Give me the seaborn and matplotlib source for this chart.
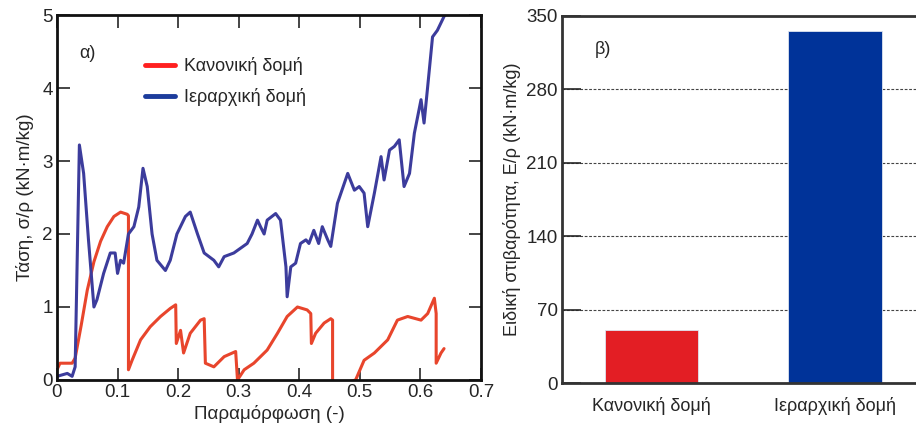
import numpy as np
import pandas as pd
import matplotlib
matplotlib.use("Agg")
import matplotlib.pyplot as plt
import seaborn as sns
from matplotlib.lines import Line2D

# ---- data ----
reg_strain = [0.0, 0.005, 0.025, 0.03, 0.04, 0.05, 0.061, 0.072, 0.083, 0.094, 0.105, 0.116, 0.118,
              0.118, 0.124, 0.138, 0.154, 0.171, 0.187, 0.196, 0.197, 0.204, 0.209, 0.22, 0.237,
              0.243, 0.245, 0.259, 0.276, 0.295, 0.298, 0.309, 0.325, 0.347, 0.364, 0.38, 0.397,
              0.413, 0.419, 0.42, 0.427, 0.441, 0.452, 0.455, 0.455, 0.48, 0.493, 0.507, 0.524,
              0.546, 0.562, 0.579, 0.601, 0.612, 0.623, 0.626, 0.626, 0.634, 0.639]
reg_stress = [0.14, 0.23, 0.23, 0.30, 0.75, 1.23, 1.62, 1.90, 2.10, 2.24, 2.30, 2.27, 2.25,
              0.14, 0.27, 0.55, 0.73, 0.87, 0.98, 1.03, 0.50, 0.68, 0.37, 0.64, 0.82,
              0.84, 0.23, 0.18, 0.32, 0.39, 0.0, 0.14, 0.23, 0.41, 0.64, 0.87, 1.0,
              0.96, 0.91, 0.50, 0.64, 0.78, 0.84, 0.82, -0.03, -0.03, 0.0, 0.27, 0.37,
              0.55, 0.82, 0.87, 0.82, 0.91, 1.12, 0.91, 0.23, 0.37, 0.43]

hier_strain = [0.0, 0.017, 0.025, 0.03, 0.037, 0.044, 0.052, 0.061, 0.066, 0.077, 0.088, 0.096,
               0.1, 0.105, 0.11, 0.118, 0.127, 0.135, 0.142, 0.149, 0.157, 0.165, 0.179, 0.187,
               0.198, 0.212, 0.22, 0.232, 0.243, 0.259, 0.267, 0.276, 0.292, 0.314, 0.322, 0.331,
               0.336, 0.342, 0.347, 0.361, 0.369, 0.378, 0.38, 0.386, 0.394, 0.402, 0.411, 0.416,
               0.424, 0.432, 0.438, 0.447, 0.452, 0.463, 0.48, 0.491, 0.499, 0.507, 0.513, 0.524,
               0.535, 0.54, 0.549, 0.557, 0.565, 0.573, 0.582, 0.59, 0.601, 0.606, 0.612, 0.62,
               0.628, 0.639, 0.645]
hier_stress = [0.05, 0.09, 0.05, 0.18, 3.22, 2.83, 1.92, 1.0, 1.1, 1.46, 1.74, 1.74,
               1.46, 1.64, 1.6, 2.0, 2.1, 2.37, 2.9, 2.65, 2.0, 1.64, 1.5, 1.64,
               2.0, 2.24, 2.3, 2.0, 1.74, 1.64, 1.55, 1.69, 1.74, 1.87, 2.0, 2.19,
               2.1, 2.0, 2.19, 2.28, 2.19, 1.55, 1.14, 1.55, 1.6, 1.87, 1.92, 1.87,
               2.05, 1.87, 2.1, 1.92, 1.83, 2.42, 2.83, 2.6, 2.65, 2.56, 2.1, 2.56,
               3.06, 2.74, 3.15, 3.2, 3.29, 2.65, 2.83, 3.38, 3.84, 3.52, 4.02, 4.7,
               4.79, 4.98, 5.05]

series_names = ["Κανονική δομή", "Ιεραρχική δομή"]
stiffness = [51, 336]

line_colors = ["#e8452c", "#3c3c9c"]
legend_colors = ["#ff2020", "#1c3c9c"]
bar_colors = ["#e31e24", "#003399"]

x_ticks = [0, 0.1, 0.2, 0.3, 0.4, 0.5, 0.6, 0.7]
x_tick_labels = ["0", "0.1", "0.2", "0.3", "0.4", "0.5", "0.6", "0.7"]
y_ticks_a = [0, 1, 2, 3, 4, 5]
y_ticks_b = [0, 70, 140, 210, 280, 350]

# ---- style ----
sns.set_style("white")
plt.rcParams['font.family'] = ['Liberation Sans', 'DejaVu Sans']
plt.rcParams['axes.linewidth'] = 2.0

df_lines = pd.concat([
    pd.DataFrame({"strain": reg_strain, "stress": reg_stress, "s": series_names[0]}),
    pd.DataFrame({"strain": hier_strain, "stress": hier_stress, "s": series_names[1]}),
])
df_bars = pd.DataFrame({"structure": series_names, "stiffness": stiffness})

fig = plt.figure(figsize=(9.16, 4.30), dpi=100)
ax1 = fig.add_axes([0.0622, 0.1163, 0.4629, 0.8488])
ax2 = fig.add_axes([0.6135, 0.1093, 0.396, 0.8535])

# ---- panel a ----
sns.lineplot(data=df_lines, x="strain", y="stress", hue="s", palette=line_colors,
             sort=False, estimator=None, linewidth=2.2, ax=ax1, legend=False)
ax1.set_xlim(0, 0.7)
ax1.set_ylim(0, 5)
ax1.set_xticks(x_ticks)
ax1.set_xticklabels(x_tick_labels)
ax1.set_yticks(y_ticks_a)
ax1.tick_params(direction="in", length=9, width=1.2, labelsize=13.5, top=True, right=True,
                bottom=True, left=True, pad=3)
ax1.set_xlabel("Παραμόρφωση (-)", fontsize=13.5, labelpad=3)
ax1.set_ylabel("Τάση, σ/ρ (kN·m/kg)", fontsize=13.5, labelpad=6)
for sp in ax1.spines.values():
    sp.set_linewidth(2.0)
    sp.set_color("#111111")
ax1.text(0.037, 4.47, "α)", fontsize=13, va="center")
handles = [Line2D([0], [0], color=c, lw=3.5) for c in legend_colors]
ax1.legend(handles, series_names, loc="upper left", bbox_to_anchor=(0.19, 0.905),
           frameon=False, fontsize=13, handlelength=1.7, handletextpad=0.45,
           labelspacing=0.75, borderaxespad=0)

# ---- panel b ----
sns.barplot(data=df_bars, x="structure", y="stiffness", hue="structure",
            palette=bar_colors, width=0.51, ax=ax2, legend=False,
            edgecolor="#dde4f0", linewidth=0.6, saturation=1)
ax2.set_xlim(-0.49, 1.49)
ax2.set_ylim(0, 350)
ax2.set_yticks(y_ticks_b)
ax2.yaxis.grid(True, linestyle=(0, (2.5, 1.5)), color="#444444", linewidth=0.8)
ax2.set_axisbelow(True)
ax2.tick_params(axis="y", direction="in", length=14, width=1.2, labelsize=13.5, left=True, pad=3)
ax2.tick_params(axis="x", length=0, labelsize=13, pad=10)
ax2.set_xlabel("")
ax2.set_ylabel("Ειδική στιβαρότητα, E/ρ (kN·m/kg)", fontsize=13, labelpad=4)
for name, sp in ax2.spines.items():
    sp.set_linewidth(2.0)
    sp.set_color("#333333")
ax2.spines["right"].set_visible(False)
ax2.text(-0.31, 318, "β)", fontsize=13, va="center")

fig.savefig("out.png", dpi=100)
